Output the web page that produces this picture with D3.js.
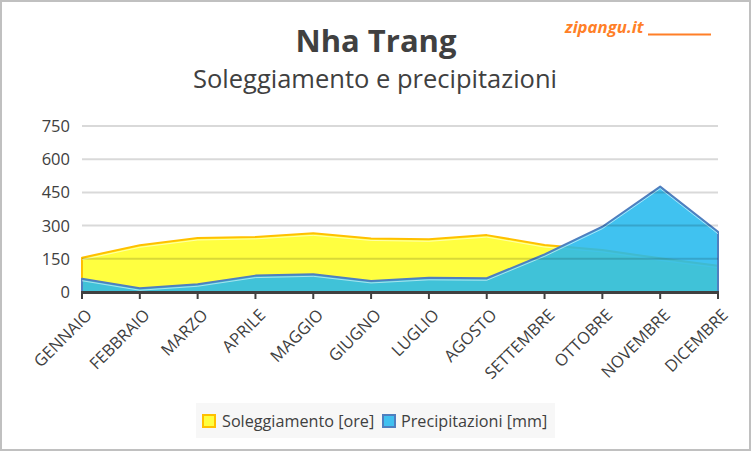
<!DOCTYPE html>
<html>
<head>
<meta charset="utf-8">
<script src="https://cdn.jsdelivr.net/npm/d3@7"></script>
<style>
  body { margin: 0; background: #fff; }
  svg { display: block; font-family: "Open Sans", "Noto Sans", sans-serif; }
</style>
</head>
<body>
<div id="chart"></div>
<script>
// dati
let months = ["GENNAIO", "FEBBRAIO", "MARZO", "APRILE", "MAGGIO", "GIUGNO",
    "LUGLIO", "AGOSTO", "SETTEMBRE", "OTTOBRE", "NOVEMBRE", "DICEMBRE"]

let sunHours = [155, 211, 244, 249, 265, 242, 238, 257, 212, 190, 152, 119]
let rainMm = [60, 17, 35, 74, 80, 50, 64, 62, 170, 295, 476, 272]

let yTicks = [0, 150, 300, 450, 600, 750]

let seriesNames = ["Soleggiamento [ore]", "Precipitazioni [mm]"]

var W = 752, H = 452;

var svg = d3.select("#chart")
    .append("svg")
    .attr("width", W)
    .attr("height", H);

// cornice
svg.append("rect")
    .attr("x", 1).attr("y", 1)
    .attr("width", W - 3).attr("height", H - 3)
    .attr("fill", "#fff")
    .attr("stroke", "#c0c0c0")
    .attr("stroke-width", 2);

// titoli
svg.append("text")
    .attr("x", 376).attr("y", 52)
    .attr("text-anchor", "middle")
    .style("font-size", "31px")
    .style("font-weight", "bold")
    .attr("fill", "#404040")
    .text("Nha Trang");

svg.append("text")
    .attr("x", 375).attr("y", 88)
    .attr("text-anchor", "middle")
    .style("font-size", "25.5px")
    .attr("fill", "#404040")
    .text("Soleggiamento e precipitazioni");

svg.append("text")
    .attr("x", 565).attr("y", 33)
    .style("font-size", "16.8px")
    .style("font-weight", "bold")
    .style("font-style", "italic")
    .attr("fill", "#ff7f27")
    .text("zipangu.it");

svg.append("line")
    .attr("x1", 648).attr("x2", 711)
    .attr("y1", 34.5).attr("y2", 34.5)
    .attr("stroke", "#ff7f27")
    .attr("stroke-width", 2);

// scale
var x = d3.scalePoint().domain(months).range([82, 718]);
var y = d3.scaleLinear().domain([0, 750]).range([292, 126]);

var g = svg.append("g");

// y labels
g.selectAll(".ylab")
    .data(yTicks)
    .enter().append("text")
    .attr("class", "ylab")
    .attr("x", 70)
    .attr("y", d => y(d))
    .attr("dy", "0.36em")
    .attr("text-anchor", "end")
    .style("font-size", "16.5px")
    .attr("fill", "#404040")
    .text(d => d);

function drawSeries(values, fill, fillOpacity, stroke) {
    var area = d3.area()
        .x((d, i) => x(months[i]))
        .y0(y(0))
        .y1(d => y(d));
    var line = d3.line()
        .x((d, i) => x(months[i]))
        .y(d => y(d));

    g.append("path")
        .datum(values)
        .attr("d", area)
        .attr("fill", fill)
        .attr("fill-opacity", fillOpacity)
        .attr("stroke", stroke)
        .attr("stroke-width", 2)
        .attr("stroke-linejoin", "round");

    // riflesso chiaro sotto il bordo
    g.append("path")
        .datum(values)
        .attr("d", line)
        .attr("transform", "translate(0,2)")
        .attr("fill", "none")
        .attr("stroke", "#fff")
        .attr("stroke-opacity", 0.55)
        .attr("stroke-width", 1);
}

drawSeries(sunHours, "#ffff40", 1, "#ffc000");
drawSeries(rainMm, "rgb(37,185,238)", 0.875, "#4f7fbf");

// griglia sopra le aree
g.selectAll(".grid")
    .data(yTicks.filter(d => d > 0))
    .enter().append("line")
    .attr("class", "grid")
    .attr("x1", 82).attr("x2", 718)
    .attr("y1", d => y(d)).attr("y2", d => y(d))
    .attr("stroke", "#000")
    .attr("stroke-opacity", 0.15)
    .attr("stroke-width", 2);

// asse x
g.append("line")
    .attr("x1", 81).attr("x2", 719)
    .attr("y1", y(0) + 0.5).attr("y2", y(0) + 0.5)
    .attr("stroke", "#404040")
    .attr("stroke-width", 3);

g.selectAll(".tick")
    .data(months)
    .enter().append("line")
    .attr("class", "tick")
    .attr("x1", d => x(d)).attr("x2", d => x(d))
    .attr("y1", y(0)).attr("y2", y(0) + 7)
    .attr("stroke", "#404040")
    .attr("stroke-width", 2);

g.selectAll(".xlab")
    .data(months)
    .enter().append("text")
    .attr("class", "xlab")
    .attr("transform", d => "translate(" + (x(d) + 7) + "," + 312 + ") rotate(-45)")
    .attr("dy", "0.35em")
    .attr("text-anchor", "end")
    .style("font-size", "16.5px")
    .attr("fill", "#404040")
    .text(d => d);

// legenda
var legend = svg.append("g");
legend.append("rect")
    .attr("x", 196).attr("y", 403)
    .attr("width", 359).attr("height", 35)
    .attr("fill", "#f7f7f7");

var legendItems = [
    { name: seriesNames[0], fill: "#ffff40", stroke: "#ffc000", bx: 203, tx: 222 },
    { name: seriesNames[1], fill: "#40c0f0", stroke: "#4f7fbf", bx: 383, tx: 401 }
];

legendItems.forEach(function(it) {
    legend.append("rect")
        .attr("x", it.bx).attr("y", 415)
        .attr("width", 12).attr("height", 12)
        .attr("fill", it.fill)
        .attr("stroke", it.stroke)
        .attr("stroke-width", 2);
    legend.append("text")
        .attr("x", it.tx).attr("y", 427)
        .style("font-size", "16.2px")
        .attr("fill", "#404040")
        .text(it.name);
});
</script>
</body>
</html>
